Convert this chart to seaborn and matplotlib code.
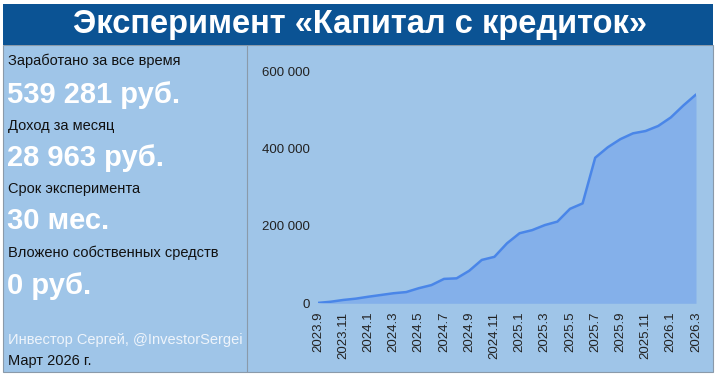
import matplotlib
matplotlib.use("Agg")
import matplotlib.pyplot as plt
import seaborn as sns
import pandas as pd
from matplotlib.patches import Rectangle

months = ["2023.9", "2023.10", "2023.11", "2023.12",
          "2024.1", "2024.2", "2024.3", "2024.4", "2024.5", "2024.6",
          "2024.7", "2024.8", "2024.9", "2024.10", "2024.11", "2024.12",
          "2025.1", "2025.2", "2025.3", "2025.4", "2025.5", "2025.6",
          "2025.7", "2025.8", "2025.9", "2025.10", "2025.11", "2025.12",
          "2026.1", "2026.2", "2026.3"]
earned = [1000, 4000, 8600, 12000, 17000, 21500, 26000, 29000, 39000, 47000,
          63000, 64500, 84000, 112000, 120000, 155000, 181000, 189000, 202000,
          211000, 244000, 258000, 376000, 403000, 424000, 439000, 445000,
          458000, 480000, 511000, 539281]
yticks = [0, 200000, 400000, 600000]
ytick_labels = ["0", "200 000", "400 000", "600 000"]

title = "Эксперимент «Капитал с кредиток»"
stats = [("Заработано за все время", "539 281 руб."),
         ("Доход за месяц", "28 963 руб."),
         ("Срок эксперимента", "30 мес."),
         ("Вложено собственных средств", "0 руб.")]
author = "Инвестор Сергей, @InvestorSergei"
date_text = "Март 2026 г."

BG = "#9FC5E8"
DARK = "#0B5394"
LINE = "#4A86E8"
FILL = "#84B0EA"

sns.set_theme(style="white")
plt.rcParams["font.family"] = ["Liberation Sans", "DejaVu Sans"]

W, H = 719, 380
fig = plt.figure(figsize=(W / 100, H / 100), dpi=100)
fig.patch.set_facecolor("white")

# panels
fig.patches.append(Rectangle((3 / W, 1 - 372 / H), 710 / W, 327 / H, transform=fig.transFigure,
                             facecolor=BG, edgecolor="#8a9aaa", lw=0.8, zorder=-2))
fig.lines.append(plt.Line2D([247 / W, 247 / W], [1 - 372 / H, 1 - 45 / H], transform=fig.transFigure,
                            color="#8a9aaa", lw=0.8, zorder=-1))
fig.patches.append(Rectangle((3 / W, 1 - 45 / H), 710 / W, 41 / H, transform=fig.transFigure,
                             facecolor=DARK, edgecolor="none", zorder=-1))
fig.text(360 / W, 1 - 25 / H, title, color="white", fontsize=23.5, fontweight="bold",
         ha="center", va="center")

label_y = [61, 126, 189, 253]
value_y = [95, 158, 221, 286]
for (lab, val), ly, vy in zip(stats, label_y, value_y):
    fig.text(8 / W, 1 - ly / H, lab, color="#111111", fontsize=10.5, ha="left", va="center")
    fig.text(7 / W, 1 - vy / H, val, color="white", fontsize=21, fontweight="bold", ha="left", va="center")
fig.text(8 / W, 1 - 340 / H, author, color="#eef4fb", fontsize=10.5, ha="left", va="center")
fig.text(8 / W, 1 - 361 / H, date_text, color="#111111", fontsize=10.5, ha="left", va="center")

# chart
ax = fig.add_axes([318 / W, 1 - 303.3 / H, (696 - 318) / W, (303.3 - 71) / H])
ax.set_zorder(5)
ax.set_facecolor("none")
df = pd.DataFrame({"idx": range(len(months)), "earned": earned})
ax.fill_between(df["idx"], df["earned"], color=FILL, lw=0, zorder=1)
sns.lineplot(data=df, x="idx", y="earned", ax=ax, color=LINE, lw=1.8, zorder=2)
ax.set_xlim(0, len(months) - 1)
ax.set_ylim(0, 600000)
ax.set_xticks(list(range(0, len(months), 2)))
ax.set_xticklabels(months[::2], rotation=90, fontsize=9.5, color="#222222")
ax.set_yticks(yticks)
ax.set_yticklabels(ytick_labels, fontsize=9.5, color="#222222")
ax.tick_params(axis="both", length=0, pad=6)
ax.set_xlabel("")
ax.set_ylabel("")
for s in ax.spines.values():
    s.set_visible(False)

fig.savefig("out.png", dpi=100, facecolor="white")
